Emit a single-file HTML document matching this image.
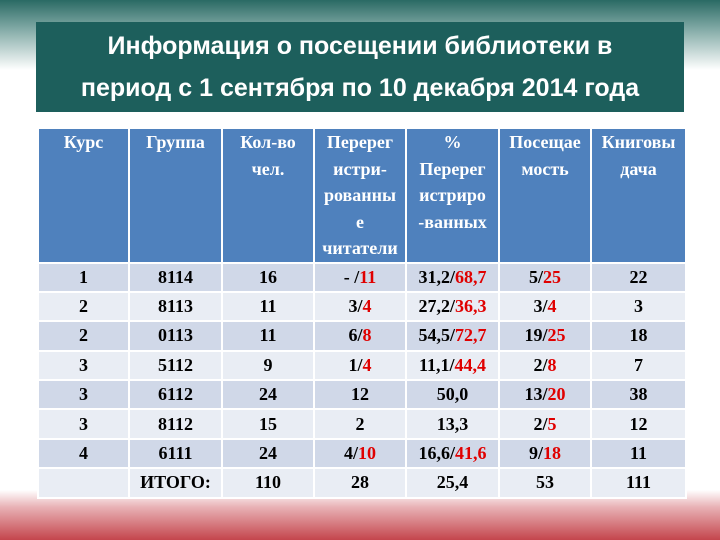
<!DOCTYPE html>
<html><head><meta charset="utf-8"><style>
body{margin:0;width:720px;height:540px;position:relative;overflow:hidden;background:#fff;font-family:"Liberation Serif","Noto Serif CJK SC",serif}
#bgtop{position:absolute;left:0;top:0;width:720px;height:70px;background:linear-gradient(#2a6a64 0%,#7fa8a4 40%,#fff 100%)}
#bgbot{position:absolute;left:0;top:490px;width:720px;height:50px;background:linear-gradient(#fff 0%,#e8b0b4 35%,#c4454c 100%)}
#title{position:absolute;left:36px;top:22px;width:648px;height:90px;background:#1d5f5c;color:#fff;font-family:"Liberation Sans","Noto Sans CJK SC",sans-serif;font-weight:bold;font-size:25px;line-height:42px;text-align:center;padding-top:3px;box-sizing:border-box;white-space:nowrap}
table{position:absolute;left:37px;top:127px;width:648px;border-collapse:collapse;table-layout:fixed}
td{border:2px solid #fff;text-align:center;font-weight:bold;font-size:18px;color:#000;padding:0;height:27.4px}
tr.h td{background:#4f81bd;color:#fff;vertical-align:top;line-height:26.5px;height:132px;padding-top:0}
tr.o td{background:#d0d8e8}
tr.e td{background:#e9edf4}
.r{color:#e00000}
</style></head><body>
<div id="bgtop"></div>
<div id="bgbot"></div>
<div id="title">Информация о посещении библиотеки в<br>период с 1 сентября по 10 декабря 2014 года</div>
<table>
<colgroup><col style="width:91px"><col style="width:93px"><col style="width:92px"><col style="width:92px"><col style="width:93px"><col style="width:92px"><col style="width:95px"></colgroup>
<tr class="h"><td>Курс</td><td>Группа</td><td>Кол-во<br>чел.</td><td>Перерег<br>истри-<br>рованны<br>е<br>читатели</td><td>%<br>Перерег<br>истриро<br>-ванных</td><td>Посещае<br>мость</td><td>Книговы<br>дача</td></tr>
<tr class="o"><td>1</td><td>8114</td><td>16</td><td>- /<span class="r">11</span></td><td>31,2/<span class="r">68,7</span></td><td>5/<span class="r">25</span></td><td>22</td></tr>
<tr class="e"><td>2</td><td>8113</td><td>11</td><td>3/<span class="r">4</span></td><td>27,2/<span class="r">36,3</span></td><td>3/<span class="r">4</span></td><td>3</td></tr>
<tr class="o"><td>2</td><td>0113</td><td>11</td><td>6/<span class="r">8</span></td><td>54,5/<span class="r">72,7</span></td><td>19/<span class="r">25</span></td><td>18</td></tr>
<tr class="e"><td>3</td><td>5112</td><td>9</td><td>1/<span class="r">4</span></td><td>11,1/<span class="r">44,4</span></td><td>2/<span class="r">8</span></td><td>7</td></tr>
<tr class="o"><td>3</td><td>6112</td><td>24</td><td>12</td><td>50,0</td><td>13/<span class="r">20</span></td><td>38</td></tr>
<tr class="e"><td>3</td><td>8112</td><td>15</td><td>2</td><td>13,3</td><td>2/<span class="r">5</span></td><td>12</td></tr>
<tr class="o"><td>4</td><td>6111</td><td>24</td><td>4/<span class="r">10</span></td><td>16,6/<span class="r">41,6</span></td><td>9/<span class="r">18</span></td><td>11</td></tr>
<tr class="e"><td></td><td>ИТОГО:</td><td>110</td><td>28</td><td>25,4</td><td>53</td><td>111</td></tr>
</table>
</body></html>
